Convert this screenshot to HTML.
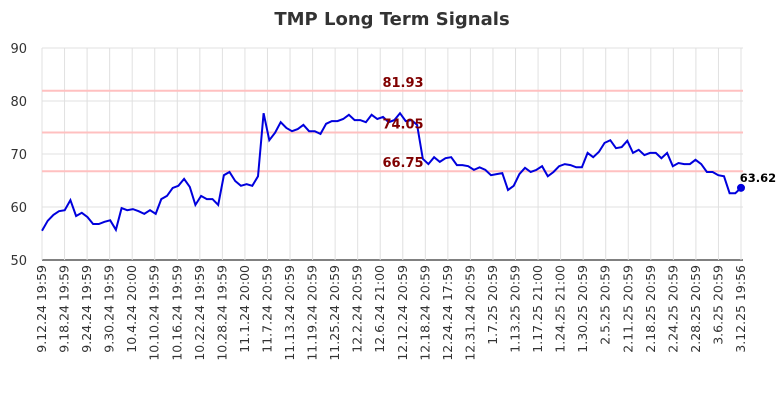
<!DOCTYPE html>
<html><head><meta charset="utf-8"><style>
body{margin:0;background:#fff;font-family:"DejaVu Sans","Liberation Sans",sans-serif}
</style></head><body>
<svg id="chart" width="784" height="400" xmlns="http://www.w3.org/2000/svg" font-family="DejaVu Sans, Liberation Sans, sans-serif"></svg>
<script>
const values=[55.5,57.4,58.5,59.2,59.4,61.3,58.3,58.9,58.1,56.8,56.8,57.2,57.5,55.7,59.8,59.4,59.6,59.2,58.7,59.4,58.7,61.5,62.1,63.6,64.0,65.3,63.8,60.4,62.1,61.5,61.5,60.4,66.0,66.6,64.9,64.0,64.3,64.0,65.8,77.7,72.6,74.0,76.0,74.9,74.3,74.7,75.5,74.3,74.3,73.8,75.7,76.2,76.2,76.6,77.4,76.4,76.4,76.0,77.4,76.6,77.0,76.0,76.4,77.7,76.2,76.4,75.5,69.1,68.1,69.4,68.5,69.2,69.4,67.9,67.9,67.7,67.0,67.5,67.0,66.0,66.2,66.4,63.2,64.0,66.2,67.4,66.6,67.0,67.7,65.8,66.6,67.7,68.1,67.9,67.5,67.5,70.2,69.4,70.4,72.1,72.6,71.1,71.3,72.5,70.2,70.8,69.8,70.2,70.2,69.2,70.2,67.7,68.3,68.1,68.1,68.9,68.1,66.6,66.6,66.0,65.8,62.6,62.6,63.62];
const xLabels=["9.12.24 19:59","9.18.24 19:59","9.24.24 19:59","9.30.24 19:59","10.4.24 20:00","10.10.24 19:59","10.16.24 19:59","10.22.24 19:59","10.28.24 19:59","11.1.24 20:00","11.7.24 20:59","11.13.24 20:59","11.19.24 20:59","11.25.24 20:59","12.2.24 20:59","12.6.24 21:00","12.12.24 20:59","12.18.24 20:59","12.24.24 17:59","12.31.24 20:59","1.7.25 20:59","1.13.25 20:59","1.17.25 21:00","1.24.25 21:00","1.30.25 20:59","2.5.25 20:59","2.11.25 20:59","2.18.25 20:59","2.24.25 20:59","2.28.25 20:59","3.6.25 20:59","3.12.25 19:56"];
const yTicks=[50,60,70,80,90];
const levels=[81.93,74.05,66.75];
const levelLabels=["81.93","74.05","66.75"];
const NS="http://www.w3.org/2000/svg";
const svg=document.getElementById('chart');
const L=42,R=743,T=48,B=260;
const yS=v=>B-(v-50)/40*(B-T);
const xS=i=>L+i*(741-L)/(values.length-1);
const xL=i=>L+i*(741-L)/(xLabels.length-1);
function mk(t,a,p){const e=document.createElementNS(NS,t);for(const k in a)e.setAttribute(k,a[k]);(p||svg).appendChild(e);return e;}
const title=mk('text',{x:392,y:25,'text-anchor':'middle','font-size':18,'font-weight':'bold',fill:'#333'});
title.textContent='TMP Long Term Signals';


yTicks.forEach(v=>{
 const g=mk('line',{x1:L,x2:R,y1:yS(v),y2:yS(v),stroke:v==50?'#000':'#e0e0e0','stroke-width':1});
 
 
 const t=mk('text',{x:27,y:yS(v)+5,'text-anchor':'end','font-size':13,fill:'#333'});
 t.textContent=v;
 
 
});
xLabels.forEach((s,i)=>{
 const x=xL(i);
 const g=mk('line',{x1:x,x2:x,y1:T,y2:B,stroke:'#e0e0e0','stroke-width':1});
 
 
 const t=mk('text',{x:0,y:0,'text-anchor':'end','font-size':12.5,fill:'#333',transform:`translate(${x+4},${B+5}) rotate(-90)`});
 t.textContent=s;
 
 
});
levels.forEach((v,i)=>{
 const l=mk('line',{x1:L,x2:R,y1:yS(v),y2:yS(v),stroke:'#ffc0c0','stroke-width':2});
 
 
});
const pts=values.map((v,i)=>xS(i).toFixed(1)+','+yS(v).toFixed(1)).join(' ');
const pl=mk('polyline',{points:pts,fill:'none',stroke:'#0000dd','stroke-width':2});


levels.forEach((v,i)=>{
 const t=mk('text',{x:403,y:yS(v)-4,'text-anchor':'middle','font-size':13,'font-weight':'bold',fill:'#800000'});
 t.textContent=levelLabels[i];
 
 
});
const n=values.length-1;
const d=mk('circle',{cx:xS(n),cy:yS(values[n]),r:4,fill:'#0000dd'});


const lt=mk('text',{x:xS(n)+17,y:yS(values[n])-6,'text-anchor':'middle','font-size':11.5,'font-weight':'bold',fill:'#000'});
lt.textContent=values[n].toFixed(2);


</script>
</body></html>
